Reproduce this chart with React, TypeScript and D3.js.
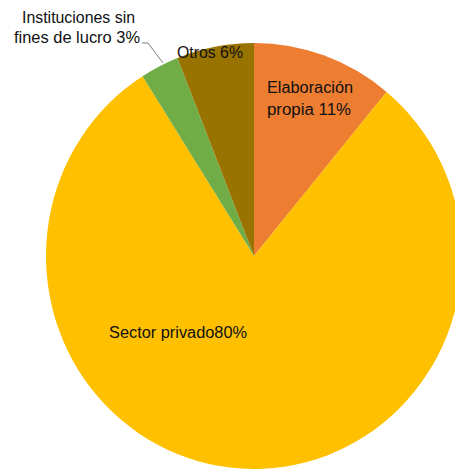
import React from "react";
import * as d3 from "d3";

const categories = ["Elaboración propia", "Sector privado", "Instituciones sin fines de lucro", "Otros"];
const values = [11, 80, 3, 6];
const colors = ["#ED7D31", "#FFC000", "#70AD47", "#997300"];

const W = 455, H = 470;
const cx = 254, cy = 256, rx = 208, ry = 213;

export default function App() {
  const pie = d3.pie<number>().sort(null).value((d) => d);
  const arcs = pie(values);
  const arc = d3.arc<d3.PieArcDatum<number>>().innerRadius(0).outerRadius(rx);
  const font = "'Liberation Sans', Arial, sans-serif";
  const tc = "#111111";
  const adj = "spacingAndGlyphs";
  return (
    <svg width={W} height={H} style={{ position: "absolute", left: 0, top: 0, background: "#fff" }}>
      <g transform={`translate(${cx},${cy}) scale(1,${ry / rx})`}>
        {arcs.map((a, i) => (
          <path key={i} d={arc(a) || ""} fill={colors[i]} stroke="none" />
        ))}
      </g>
      <g fontFamily={font} fontSize={16} fill={tc}>
        <text x={267} y={93} textLength={86} lengthAdjust={adj}>Elaboración</text>
        <text x={267} y={115} textLength={84} lengthAdjust={adj}>{`propia ${values[0]}%`}</text>
        <text x={177} y={58} textLength={66} lengthAdjust={adj}>{`${categories[3]} ${values[3]}%`}</text>
        <text x={109} y={338} textLength={138} lengthAdjust={adj}>{`${categories[1]}${values[1]}%`}</text>
        <text x={22} y={23} textLength={113} lengthAdjust={adj}>Instituciones sin</text>
        <text x={14} y={43} textLength={126} lengthAdjust={adj}>{`fines de lucro ${values[2]}%`}</text>
      </g>
      <polyline points="142,43 148,43 163,63" fill="none" stroke="#7f7f7f" strokeWidth={1} />
    </svg>
  );
}
